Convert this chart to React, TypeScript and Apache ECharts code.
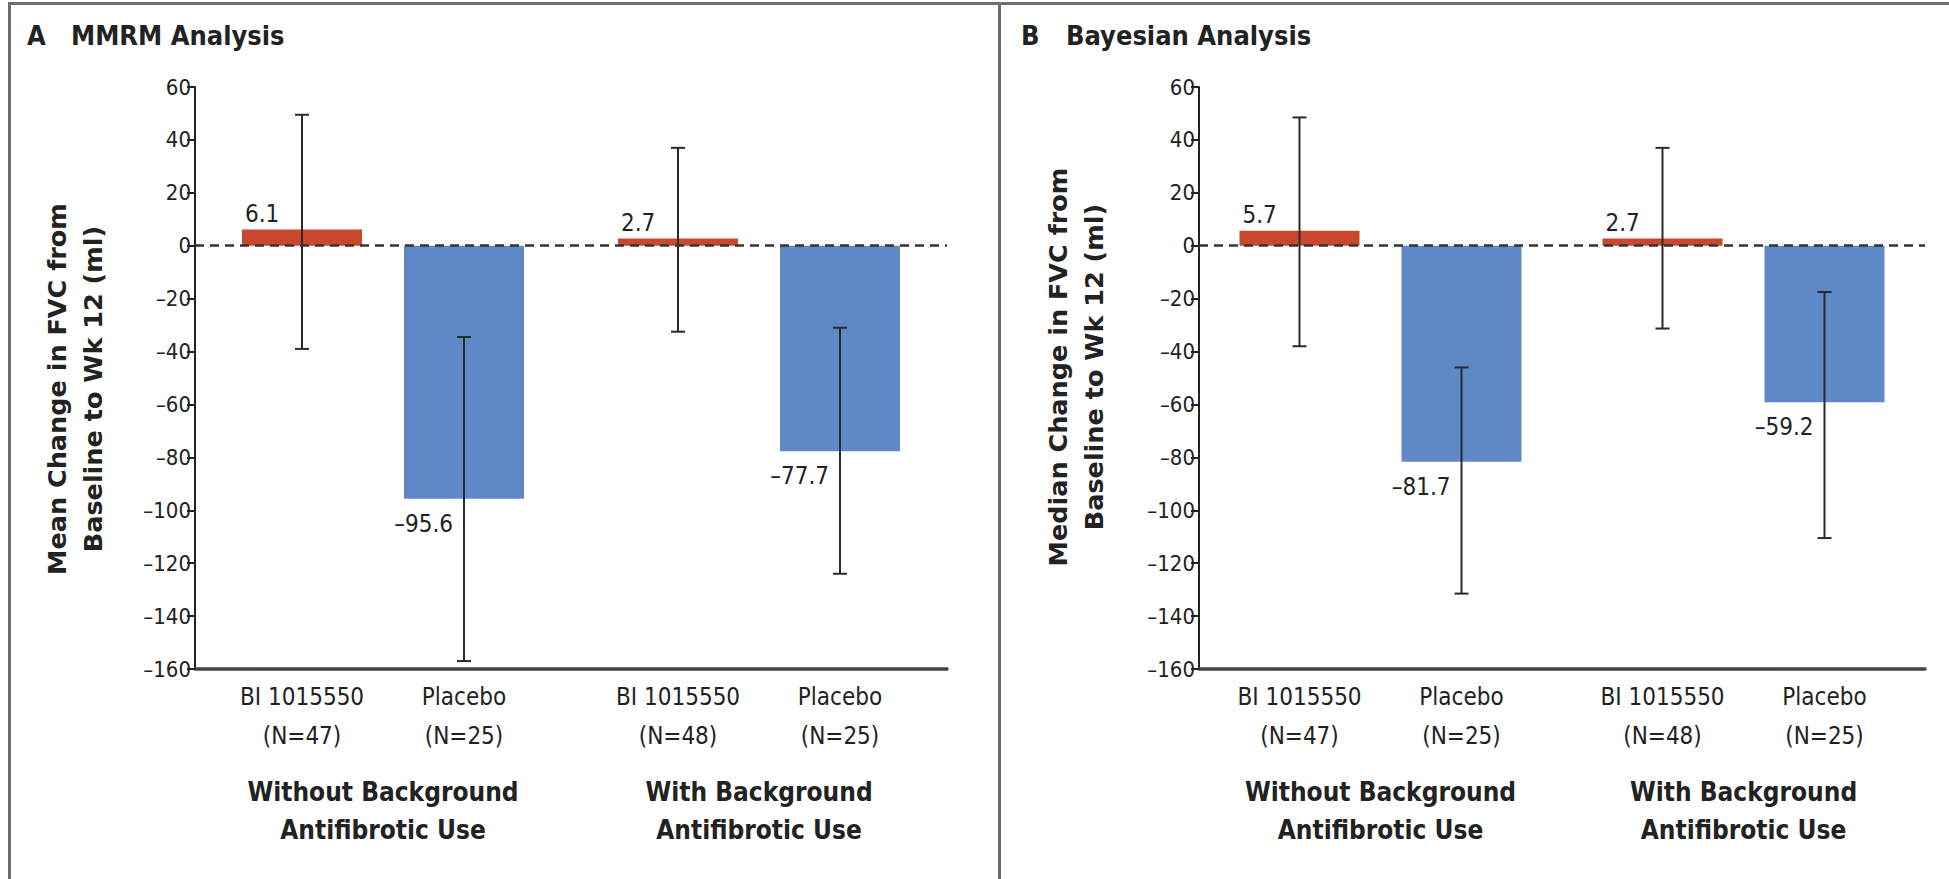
import React, { useEffect, useRef } from "react";
import * as echarts from "echarts";

// ---------- data ----------
const groups = ["Without Background\nAntifibrotic Use", "With Background\nAntifibrotic Use"];
const barLabels = [
  ["BI 1015550\n(N=47)", "Placebo\n(N=25)"],
  ["BI 1015550\n(N=48)", "Placebo\n(N=25)"],
];
const yTicksMin = -160;
const yTicksMax = 60;
const yTickStep = 20;

// MMRM analysis (panel A)
const mmrmBI = [6.1, 2.7];
const mmrmBILow = [-39, -32.5];
const mmrmBIHigh = [49.5, 37];
const mmrmPlacebo = [-95.6, -77.7];
const mmrmPlaceboLow = [-157, -124];
const mmrmPlaceboHigh = [-34.5, -31];

// Bayesian analysis (panel B)
const bayesBI = [5.7, 2.7];
const bayesBILow = [-38, -31.3];
const bayesBIHigh = [48.5, 37];
const bayesPlacebo = [-81.7, -59.2];
const bayesPlaceboLow = [-131.5, -110.5];
const bayesPlaceboHigh = [-46, -17.5];

// ---------- style ----------
const NARROW = "'Liberation Sans Narrow', 'Arial Narrow', 'DejaVu Sans Condensed', sans-serif";
const WIDE = "'DejaVu Sans', 'Noto Sans', sans-serif";
const INK = "#222";
const RED = "#c9472d";
const BLUE = "#5f88c6";
const BAR_W = 120;
const BAR_GAP = "35%";
const BAR_OFFSET = 81;

const fmtNum = (v: number) => (v < 0 ? "\u2013" + Math.abs(v).toFixed(1) : v.toFixed(1));
const fmtTick = (v: number) => (v < 0 ? "\u2013" + Math.abs(v) : String(v));

function errRows(biLow: number[], biHigh: number[], plLow: number[], plHigh: number[]) {
  const rows: number[][] = [];
  groups.forEach((_, g) => {
    rows.push([g, 0, biLow[g], biHigh[g]]);
    rows.push([g, 1, plLow[g], plHigh[g]]);
  });
  return rows;
}

function makeErrSeries(axisIndex: number, rows: number[][]) {
  return {
    type: "custom",
    xAxisIndex: axisIndex,
    yAxisIndex: axisIndex,
    clip: false,
    silent: true,
    z: 4,
    encode: { x: 0, y: [2, 3] },
    data: rows,
    renderItem: (params: any, api: any) => {
      const g = api.value(0);
      const t = api.value(1);
      const low = api.value(2);
      const high = api.value(3);
      const pLow = api.coord([g, low]);
      const pHigh = api.coord([g, high]);
      const x = pLow[0] + (t === 0 ? -BAR_OFFSET : BAR_OFFSET);
      const yBase = api.coord([g, yTicksMin])[1];
      const stroke = { stroke: "#2a2a2a", lineWidth: 2 };
      return {
        type: "group",
        children: [
          { type: "line", shape: { x1: x, y1: pHigh[1], x2: x, y2: pLow[1] }, style: stroke },
          { type: "line", shape: { x1: x - 7, y1: pHigh[1], x2: x + 7, y2: pHigh[1] }, style: stroke },
          { type: "line", shape: { x1: x - 7, y1: pLow[1], x2: x + 7, y2: pLow[1] }, style: stroke },
          {
            type: "text",
            x: x,
            y: yBase + 8,
            style: {
              text: barLabels[g][t],
              fill: INK,
              fontFamily: NARROW,
              fontSize: 24,
              lineHeight: 39,
              align: "center",
              verticalAlign: "top",
            },
          },
        ],
      };
    },
  };
}

function makeBarSeries(axisIndex: number, bi: number[], pl: number[]) {
  return [
    {
      type: "bar",
      name: "BI 1015550",
      xAxisIndex: axisIndex,
      yAxisIndex: axisIndex,
      data: bi,
      barWidth: BAR_W,
      barGap: BAR_GAP,
      itemStyle: { color: RED },
      label: {
        show: true,
        position: [3, -4],
        align: "left",
        verticalAlign: "bottom",
        formatter: (p: any) => fmtNum(p.value),
        fontFamily: NARROW,
        fontSize: 24,
        color: INK,
      },
    },
    {
      type: "bar",
      name: "Placebo",
      xAxisIndex: axisIndex,
      yAxisIndex: axisIndex,
      data: pl,
      barWidth: BAR_W,
      barGap: BAR_GAP,
      itemStyle: { color: BLUE },
      label: {
        show: true,
        position: ["50%", "100%"],
        align: "right",
        verticalAlign: "middle",
        offset: [-11, 25],
        formatter: (p: any) => fmtNum(p.value),
        fontFamily: NARROW,
        fontSize: 24,
        color: INK,
      },
      markLine: {
        silent: true,
        symbol: ["none", "none"],
        label: { show: false },
        lineStyle: { type: [9, 6], color: "#333", width: 2.5 },
        data: [{ yAxis: 0 }],
        z: 6,
      },
    },
  ];
}

function makeXAxis(gridIndex: number) {
  return {
    type: "category",
    gridIndex,
    data: groups,
    axisLine: { onZero: false, lineStyle: { color: "#444", width: 3.5 } },
    axisTick: { show: false },
    axisLabel: {
      interval: 0,
      margin: 104,
      fontFamily: NARROW,
      fontWeight: "bold",
      fontSize: 26,
      lineHeight: 38,
      color: INK,
    },
  };
}

function makeYAxis(gridIndex: number, name: string, nameGap: number, namePadding: number[]) {
  return {
    type: "value",
    gridIndex,
    min: yTicksMin,
    max: yTicksMax,
    interval: yTickStep,
    name,
    nameLocation: "middle",
    nameRotate: 90,
    nameGap,
    nameTextStyle: {
      fontFamily: WIDE,
      fontWeight: "bold",
      fontSize: 25.5,
      lineHeight: 36,
      color: INK,
      padding: namePadding,
    },
    axisLine: { show: true, lineStyle: { color: "#222", width: 2 } },
    axisTick: { show: true, length: 8, lineStyle: { color: "#222", width: 2 } },
    splitLine: { show: false },
    axisLabel: {
      formatter: fmtTick,
      fontFamily: NARROW,
      fontSize: 22,
      color: INK,
      margin: 4,
    },
  };
}

export default function App() {
  const ref = useRef<HTMLDivElement>(null);
  useEffect(() => {
    document.body.style.margin = "0";
    if (!ref.current) return;
    const chart = echarts.init(ref.current, undefined, { renderer: "svg" });
    const titleStyle = { fontFamily: NARROW, fontWeight: "bold", fontSize: 27, color: INK };
    chart.setOption({
      animation: false,
      backgroundColor: "#fff",
      title: [
        { text: "A", left: 27, top: 22, padding: 0, textStyle: titleStyle },
        { text: "MMRM Analysis", left: 71, top: 22, padding: 0, textStyle: titleStyle },
        { text: "B", left: 1021, top: 22, padding: 0, textStyle: titleStyle },
        { text: "Bayesian Analysis", left: 1066, top: 22, padding: 0, textStyle: titleStyle },
      ],
      grid: [
        { left: 195, top: 87, width: 752, height: 582 },
        { left: 1199, top: 87, width: 726, height: 582 },
      ],
      xAxis: [makeXAxis(0), makeXAxis(1)],
      yAxis: [
        makeYAxis(0, "Mean Change in FVC from\nBaseline to Wk 12 (ml)", 84, [0, 22, 0, 0]),
        makeYAxis(1, "Median Change in FVC from\nBaseline to Wk 12 (ml)", 87, [0, 0, 0, 22]),
      ],
      graphic: [
        { type: "line", shape: { x1: 8, y1: 3.5, x2: 1949, y2: 3.5 }, style: { stroke: "#6d6d6d", lineWidth: 3 }, silent: true },
        { type: "line", shape: { x1: 9.5, y1: 2, x2: 9.5, y2: 879 }, style: { stroke: "#6d6d6d", lineWidth: 3 }, silent: true },
        { type: "line", shape: { x1: 999.5, y1: 2, x2: 999.5, y2: 879 }, style: { stroke: "#6d6d6d", lineWidth: 3 }, silent: true },
      ],
      series: [
        ...makeBarSeries(0, mmrmBI, mmrmPlacebo),
        makeErrSeries(0, errRows(mmrmBILow, mmrmBIHigh, mmrmPlaceboLow, mmrmPlaceboHigh)),
        ...makeBarSeries(1, bayesBI, bayesPlacebo),
        makeErrSeries(1, errRows(bayesBILow, bayesBIHigh, bayesPlaceboLow, bayesPlaceboHigh)),
      ],
    });
    return () => chart.dispose();
  }, []);
  return <div ref={ref} style={{ width: 1949, height: 879 }} />;
}
